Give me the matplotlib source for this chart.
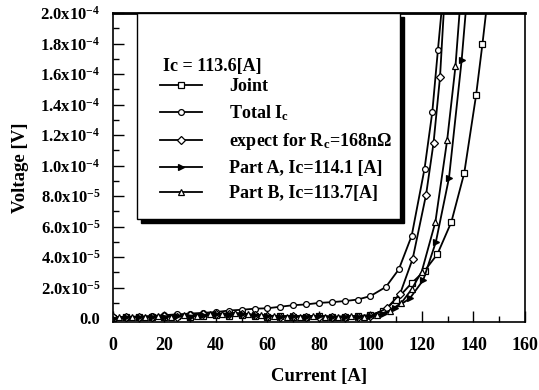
import numpy as np
import matplotlib
matplotlib.use("Agg")
import matplotlib.pyplot as plt
from matplotlib.patches import Rectangle
from matplotlib.ticker import MultipleLocator

plt.rcParams['font.family'] = ['Liberation Serif', 'DejaVu Serif']
plt.rcParams['font.weight'] = 'bold'
plt.rcParams['mathtext.fontset'] = 'custom'
plt.rcParams['mathtext.rm'] = 'Liberation Serif:bold'
plt.rcParams['mathtext.bf'] = 'Liberation Serif:bold'
plt.rcParams['mathtext.it'] = 'Liberation Serif:bold'

# data (current in A, voltage in 1e-5 V)
flat_i = list(range(0, 101, 5))

joint_i = flat_i + [105, 110, 116, 121, 126, 131.4, 136.4, 141, 143.5, 145.2]
joint_v = [0.0, 0.05, 0.1, 0.05, 0.1, 0.15, 0.1, 0.15, 0.2, 0.15, 0.2,
           0.15, 0.1, 0.15, 0.1, 0.1, 0.15, 0.1, 0.1, 0.15, 0.2,
           0.5, 1.2, 2.3, 3.1, 4.2, 6.3, 9.5, 14.6, 18.0, 20.5]

total_i = flat_i + [106, 111, 116, 121, 124, 126.2, 127.8]
total_v = [0.05, 0.08, 0.1, 0.15, 0.2, 0.25, 0.3, 0.35, 0.4, 0.5, 0.55,
           0.62, 0.65, 0.75, 0.85, 0.9, 1.0, 1.05, 1.12, 1.22, 1.45,
           2.05, 3.2, 5.4, 9.8, 13.5, 17.6, 20.5]

expect_i = flat_i + [106.3, 111.5, 116.4, 121.6, 124.5, 127, 128.6]
expect_v = [0.05, 0.1, 0.05, 0.1, 0.15, 0.1, 0.2, 0.25, 0.3, 0.25, 0.3,
            0.2, 0.15, 0.1, 0.15, 0.1, 0.1, 0.05, 0.1, 0.1, 0.15,
            0.64, 1.6, 3.9, 8.1, 11.5, 15.8, 20.5]

parta_i = flat_i + [105, 109.5, 115.3, 120.5, 125.4, 130.5, 135.4, 137.2]
parta_v = [0.0, 0.05, 0.1, 0.05, 0.1, 0.15, 0.1, 0.2, 0.25, 0.2, 0.3,
           0.2, 0.15, 0.1, 0.15, 0.1, 0.15, 0.1, 0.05, 0.1, 0.15,
           0.25, 0.64, 1.3, 2.5, 5.0, 9.2, 16.9, 20.5]

partb_i = [2.5 + 5 * k for k in range(21)] + [107.5, 112, 116, 119.9, 125.2, 129.8, 133, 134.8]
partb_v = [0.05, 0.1, 0.05, 0.15, 0.1, 0.2, 0.15, 0.25, 0.3, 0.35, 0.25,
           0.2, 0.15, 0.1, 0.1, 0.15, 0.1, 0.1, 0.15, 0.1, 0.2,
           0.5, 1.0, 1.9, 3.05, 6.3, 11.7, 16.5, 20.5]

ytick_vals = [0, 2e-5, 4e-5, 6e-5, 8e-5, 1e-4, 1.2e-4, 1.4e-4, 1.6e-4, 1.8e-4, 2e-4]
ytick_text = ['0.0'] + [f'{m}x10$^{{-5}}$' for m in ['2.0', '4.0', '6.0', '8.0']] + \
             [f'{m}x10$^{{-4}}$' for m in ['1.0', '1.2', '1.4', '1.6', '1.8', '2.0']]

fig = plt.figure(figsize=(5.39, 3.90), dpi=100)
ax = fig.add_axes([0.2096, 0.1744, 0.974 - 0.2096, 0.9667 - 0.1744])

def v(a):
    return np.array(a) * 1e-5

kw = dict(color='black', lw=1.3, ms=4.2, mec='black', mew=0.9)
ax.plot(joint_i, v(joint_v), marker='s', mfc='white', label='Joint', **kw)
ax.plot(total_i, v(total_v), marker='o', mfc='white', label='Total I$_{c}$', **kw)
ax.plot(expect_i, v(expect_v), marker='D', mfc='white', label='expect for R$_{c}$=168nΩ',
        color='black', lw=1.3, ms=3.8, mec='black', mew=0.9)
ax.plot(parta_i, v(parta_v), marker='>', mfc='black', label='Part A, Ic=114.1 [A]', **kw)
ax.plot(partb_i, v(partb_v), marker='^', mfc='white', label='Part B, Ic=113.7[A]', **kw)

ax.set_xlim(0, 160)
ax.set_ylim(-0.25e-5, 2.0e-4)
ax.xaxis.set_major_locator(MultipleLocator(20))
ax.xaxis.set_minor_locator(MultipleLocator(10))
ax.set_yticks(ytick_vals)
ax.set_yticklabels(ytick_text)
ax.yaxis.set_minor_locator(MultipleLocator(1e-5))
ax.tick_params(which='both', direction='in', width=1.0)
ax.tick_params(which='major', length=8)
ax.tick_params(which='minor', length=4)
ax.tick_params(axis='x', which='major', pad=11, labelsize=13)
ax.tick_params(axis='y', which='major', pad=9, labelsize=12)
for s in ax.spines.values():
    s.set_linewidth(1.2)
ax.spines['top'].set_linewidth(2.0)

ax.set_xlabel('Current [A]', fontsize=13.5, fontweight='bold', labelpad=10)
ax.set_ylabel('Voltage [V]', fontsize=13.5, fontweight='bold', labelpad=8)

# legend box with a solid black shadow
x0, x1, y0, y1 = 0.058, 0.697, 0.333, 1.0
dx, dy = 4 / 412, 4 / 309
ax.add_patch(Rectangle((x0 + dx, y0 - dy), x1 - x0, y1 - y0, transform=ax.transAxes,
                       facecolor='black', edgecolor='black', zorder=5, clip_on=False))
ax.add_patch(Rectangle((x0, y0), x1 - x0, y1 - y0, transform=ax.transAxes,
                       facecolor='white', edgecolor='black', lw=1.0, zorder=6, clip_on=False))
ax.text(0.121, 0.828, 'Ic = 113.6[A]', transform=ax.transAxes, fontsize=13,
        fontweight='bold', va='center', ha='left', zorder=7)
leg = ax.legend(loc='upper left', bbox_to_anchor=(0.115, 0.79), frameon=False,
                fontsize=13, handlelength=2.3, handletextpad=1.5, labelspacing=0.45,
                borderpad=0, borderaxespad=0)
leg.set_zorder(8)

fig.savefig('out.png', dpi=100)
